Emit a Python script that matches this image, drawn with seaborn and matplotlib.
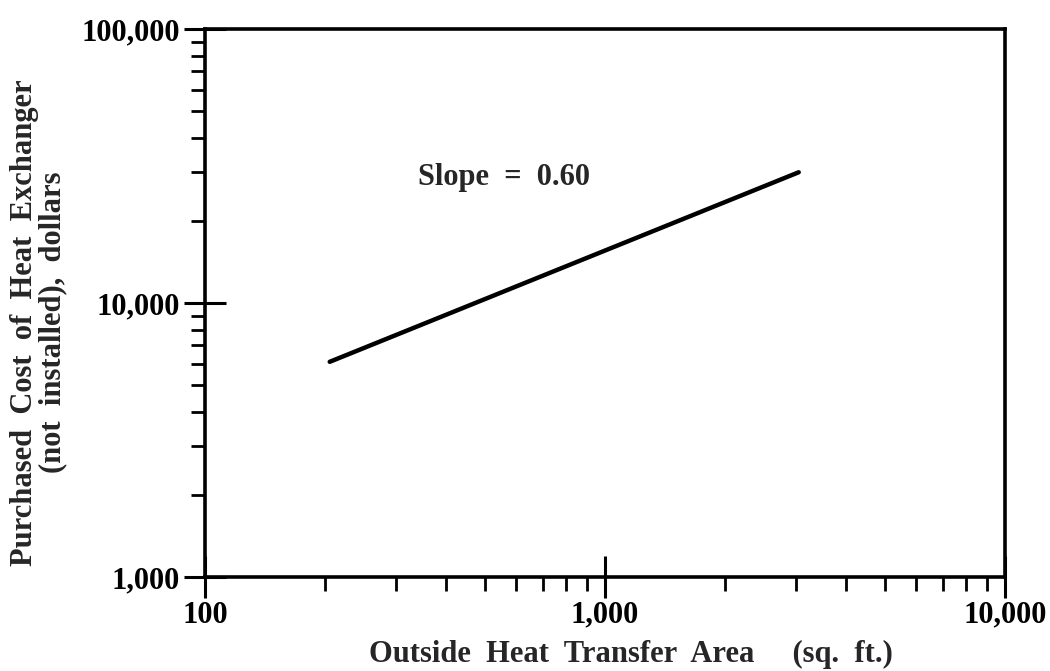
import matplotlib
matplotlib.use("Agg")
import matplotlib.pyplot as plt
from matplotlib.ticker import FuncFormatter, LogLocator, NullFormatter
import seaborn as sns

# line end points
area_sqft = [205, 3050]
cost_dollars = [6100, 30000]

x_ticks = [100, 1000, 10000]
y_ticks = [1000, 10000, 100000]

sns.set_style("white")
plt.rcParams['font.family'] = ['Liberation Serif', 'DejaVu Serif']
plt.rcParams['font.weight'] = 'bold'

fig = plt.figure(figsize=(10.5, 6.71), dpi=100)
ax = fig.add_axes([205 / 1050, 1 - 577 / 671, 800 / 1050, 548 / 671])

sns.lineplot(x=area_sqft, y=cost_dollars, ax=ax, color='black', linewidth=3.2)

ax.set_xscale('log')
ax.set_yscale('log')
ax.set_xlim(100, 10000)
ax.set_ylim(1000, 100000)

fmt = FuncFormatter(lambda v, p: f"{v:,.0f}")
for axis in (ax.xaxis, ax.yaxis):
    axis.set_major_locator(LogLocator(base=10, numticks=10))
    axis.set_minor_locator(LogLocator(base=10, subs=range(2, 10), numticks=10))
    axis.set_major_formatter(fmt)
    axis.set_minor_formatter(NullFormatter())
ax.set_xticks(x_ticks)
ax.set_yticks(y_ticks)

ax.tick_params(which='major', direction='inout', length=30, width=2.2,
               labelsize=22, colors='black')
ax.tick_params(which='minor', direction='out', length=10, width=2.0, colors='black')
ax.tick_params(axis='x', which='major', pad=2)
ax.tick_params(axis='y', which='major', pad=3)
ax.tick_params(left=True, bottom=True, top=False, right=False, which='both')
for lab in ax.get_xticklabels() + ax.get_yticklabels():
    lab.set_fontweight('bold')

for s in ax.spines.values():
    s.set_color('black')
    s.set_linewidth(2.6)

ax.set_xlabel("Outside  Heat  Transfer  Area     (sq.  ft.)", fontsize=22,
              fontweight='bold', va='center')
ax.xaxis.set_label_coords(0.533, -0.142)
ax.set_ylabel("Purchased  Cost  of  Heat  Exchanger\n(not  installed),  dollars",
              fontsize=22, fontweight='bold', linespacing=1.0, va='center')
ax.yaxis.set_label_coords(-0.208, 0.464)

ax.text(340, 28800, "Slope  =  0.60", fontsize=22, fontweight='bold',
        ha='left', va='center')

fig.savefig("out.png", dpi=100)
